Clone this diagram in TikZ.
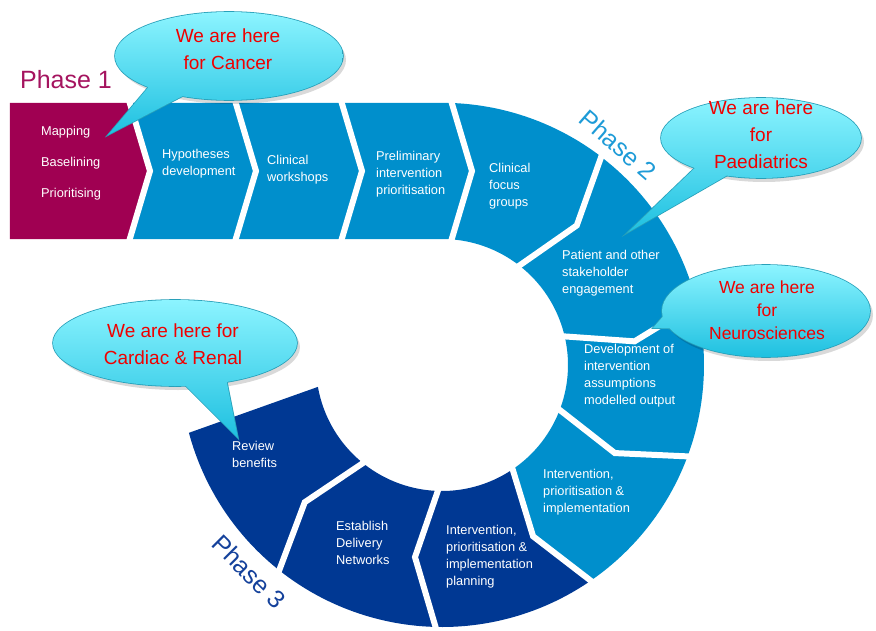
\documentclass[tikz,border=0pt]{standalone}
\usepackage{fontspec}
\setmainfont{Liberation Sans}
\usepackage{tikz}
\definecolor{phaseone}{RGB}{160,0,82}
\definecolor{phasetwo}{RGB}{0,143,204}
\definecolor{phasethree}{RGB}{0,56,147}
\definecolor{phaseonetext}{RGB}{165,20,95}
\definecolor{phasetwotext}{RGB}{30,155,215}
\definecolor{phasethreetext}{RGB}{20,65,155}
\definecolor{bubbletop}{RGB}{140,244,255}
\definecolor{bubblebottom}{RGB}{30,192,224}
\definecolor{bubbleedge}{RGB}{40,160,185}
\definecolor{bubblered}{RGB}{240,0,0}
\newcommand{\segfont}{\fontsize{12.8}{17}\selectfont}
\newcommand{\firstfont}{\fontsize{12.8}{31}\selectfont}
\newcommand{\phasefont}{\fontsize{25}{30}\selectfont}
\newcommand{\bubblefont}{\fontsize{19}{27}\selectfont}
\newcommand{\smallbubblefont}{\fontsize{17.5}{23}\selectfont}
\tikzstyle{phase one box} = [fill = phaseone]
\tikzstyle{phase two box} = [fill = phasetwo]
\tikzstyle{phase three box} = [fill = phasethree]
\tikzstyle{gap} = [white, line width = 6]
\tikzstyle{step text} = [text = white, font = \segfont, align = left, anchor = west, inner sep = 0]
\tikzstyle{phase label} = [font = \phasefont, inner sep = 0]
\tikzstyle{bubble shadow} = [fill = black, opacity = .15]
\tikzstyle{bubble rim} = [draw = bubbleedge, line width = 1.6]
\tikzstyle{bubble} = [top color = bubbletop, bottom color = bubblebottom]
\tikzstyle{bubble text} = [text = bubblered, font = \bubblefont, align = center, inner sep = 0]
\tikzstyle{spiral picture} = [x = 1pt, y = 1pt]

\begin{document}
\begin{tikzpicture}[spiral picture]
    \useasboundingbox (-442,-265) rectangle (434,365);
    \fill [phase one box] (-432,262) -- (-312,262) -- (-292,194) -- (-312,126) -- (-432,126) -- cycle;
    \foreach \a/\b in {-312/-206, -206/-100, -100/10}
    {
        \fill [phase two box] (\a,262) -- (\b,262) -- (\b+20,194) -- (\b,126) -- (\a,126) -- (\a+20,194) -- cycle;
    }
    \fill [phase two box] (10,262) arc [start angle = 87.8, end angle = 53, radius = 262]
        -- (46:194) -- (53:126) arc [start angle = 53, end angle = 85.5, radius = 126] -- (30,194) -- cycle;
    \foreach \a/\b/\c in {53/14/phasetwo, 14/-20/phasetwo, -20/-55/phasetwo, -55/-91/phasethree, -91/-128/phasethree}
    {
        \fill [fill = \c] (\a:262) arc [start angle = \a, end angle = \b, radius = 262]
            -- ({\b-7}:194) -- (\b:126) arc [start angle = \b, end angle = \a, radius = 126] -- ({\a-7}:194) -- cycle;
    }
    \fill [phase three box] (-128:262) arc [start angle = -128, end angle = -165, radius = 262]
        -- (-170:126) arc [start angle = -170, end angle = -128, radius = 126] -- (-135:194) -- cycle;
    \foreach \x in {-312, -206, -100, 10}
        \draw [gap] (\x-2,268) -- (\x+20,194) -- (\x-2,120);
    \foreach \a in {53, 14, -20, -55, -91, -128}
        \draw [gap] (\a:268) -- ({\a-7}:194) -- (\a:120);

    \node [step text, font = \firstfont] (mapping) at (-401,202) {Mapping\\Baselining\\Prioritising};
    \node [step text] (hypotheses) at (-280,201) {Hypotheses\\development};
    \node [step text] (workshops) at (-175,195) {Clinical\\workshops};
    \node [step text] (preliminary) at (-66,191) {Preliminary\\intervention\\prioritisation};
    \node [step text] (focus) at (47,179) {Clinical\\focus\\groups};
    \node [step text] (patient) at (120,92) {Patient and other\\stakeholder\\engagement};
    \node [step text] (development) at (142,-11) {Development of\\intervention\\assumptions\\modelled output};
    \node [step text] (intervention) at (101,-127) {Intervention,\\prioritisation \&\\implementation};
    \node [step text] (planning) at (4,-192) {Intervention,\\prioritisation \&\\implementation\\planning};
    \node [step text] (networks) at (-106,-178) {Establish\\Delivery\\Networks};
    \node [step text] (review) at (-210,-89) {Review\\benefits};

    \node [phase label, text = phaseonetext] (phase one) at (-376,285) {Phase 1};
    \node [phase label, text = phasetwotext, rotate = -41] (phase two) at (176,220) {Phase 2};
    \node [phase label, text = phasethreetext, rotate = -45] (phase three) at (-193,-207) {Phase 3};

    \foreach \cx/\cy/\rx/\ry/\ax/\ay/\tx/\ty/\bx/\by in {-213/309/114/44/-285/288/-334/230/-242/278,
        319/227/100/40/258/202/185/132/291/193, 324/54/104/46/236/66/211/37/245/36,
        -267/22/122/43/-262/-15/-204/-73/-217/-8}
    {
        \fill [bubble shadow] (\cx+3,\cy-4) ellipse [x radius = \rx, y radius = \ry];
        \draw [bubble rim] (\cx,\cy) ellipse [x radius = \rx, y radius = \ry];
        \draw [bubble rim] (\ax,\ay) -- (\tx,\ty) -- (\bx,\by);
        \shade [bubble] (\cx,\cy) ellipse [x radius = \rx, y radius = \ry] (\ax,\ay) -- (\tx,\ty) -- (\bx,\by) -- cycle;
    }
    \node [bubble text] (cancer) at (-214,316) {We are here\\for Cancer};
    \node [bubble text] (paediatrics) at (319,230) {We are here\\for\\Paediatrics};
    \node [bubble text, font = \smallbubblefont] (neurosciences) at (325,55) {We are here\\for\\Neurosciences};
    \node [bubble text] (cardiac) at (-269,21) {We are here for\\Cardiac \& Renal};
\end{tikzpicture}
\end{document}
